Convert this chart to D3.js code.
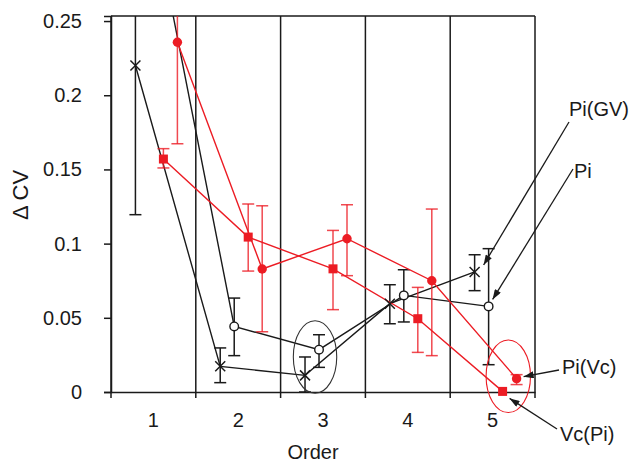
<!DOCTYPE html>
<html><head><meta charset="utf-8">
<script src="https://cdn.jsdelivr.net/npm/d3@7"></script>
<style>
html,body{margin:0;padding:0;background:#fff;}
svg{display:block;font-family:"Liberation Sans",Arial,Helvetica,sans-serif;}
</style></head>
<body><svg id="chart" width="629" height="463"></svg>
<script>
// ---- data ----
const categories = ["1","2","3","4","5"];
const yTicks = [0, 0.05, 0.1, 0.15, 0.2, 0.25];
const yTickLabels = ["0","0.05","0.1","0.15","0.2","0.25"];

const piGV     = [0.220, 0.0173, 0.0112, 0.0595, 0.0809];
const piGVLow  = [0.1195, 0.0063, 0.0, 0.0460, 0.0683];
const piGVHigh = [0.340, 0.0297, 0.0236, 0.0723, 0.0925];

const pi       = [0.335, 0.0442, 0.0285, 0.0651, 0.0577];
const piLow    = [0.290, 0.0245, 0.0166, 0.0472, 0.0184];
const piHigh   = [0.380, 0.0633, 0.0386, 0.0824, 0.0966];

const vcPi     = [0.157, 0.1044, 0.0830, 0.0494, 0.0004];
const vcPiLow  = [0.151, 0.0815, 0.0555, 0.0267, 0.0004];
const vcPiHigh = [0.164, 0.1267, 0.1089, 0.0705, 0.0004];

const piVc     = [0.2357, 0.0829, 0.1033, 0.0750, 0.0090];
const piVcLow  = [0.1673, 0.0406, 0.0784, 0.0245, 0.0050];
const piVcHigh = [0.300, 0.1255, 0.1262, 0.1233, 0.0117];

const seriesNames = ["Pi(GV)", "Pi", "Vc(Pi)", "Pi(Vc)"];

// ---- layout ----
const W = 629, H = 463;
const m = {left:111, right:94, top:16, bottom:71};
const RED = "#ec1c24", BLK = "#1a1a1a";

const svg = d3.select("#chart");
const x = d3.scaleBand().domain(categories).range([m.left, W - m.right]).padding(0);
const y = d3.scaleLinear().domain([0, 0.2534]).range([H - m.bottom, m.top]);
const bw = x.bandwidth();

const series = [
  {name:seriesNames[0], v:piGV, lo:piGVLow, hi:piGVHigh, dodge:-0.212, color:BLK, marker:"x"},
  {name:seriesNames[1], v:pi,   lo:piLow,   hi:piHigh,   dodge:-0.047, color:BLK, marker:"open"},
  {name:seriesNames[2], v:vcPi, lo:vcPiLow, hi:vcPiHigh, dodge:0.118,  color:RED, marker:"square"},
  {name:seriesNames[3], v:piVc, lo:piVcLow, hi:piVcHigh, dodge:0.283,  color:RED, marker:"dot"}
];
const px = (s, i) => x(categories[i]) + bw/2 + s.dodge*bw;

svg.append("defs").append("clipPath").attr("id","clip")
  .append("rect").attr("x", m.left).attr("y", m.top)
  .attr("width", W - m.right - m.left).attr("height", H - m.bottom - m.top);

svg.select("defs").append("marker").attr("id","arrow")
  .attr("viewBox","0 0 10 7").attr("refX",10).attr("refY",3.5)
  .attr("markerWidth",11).attr("markerHeight",7).attr("markerUnits","userSpaceOnUse")
  .attr("orient","auto")
  .append("path").attr("d","M0,0 L10,3.5 L0,7 Z").attr("fill", BLK);

// frame + vertical separators
const bounds = categories.map(c => x(c)).concat([x(categories[categories.length-1]) + bw]);
svg.append("g").selectAll("line").data(bounds).join("line")
  .attr("x1", d => d).attr("x2", d => d)
  .attr("y1", m.top).attr("y2", H - m.bottom + 6)
  .attr("stroke", BLK).attr("stroke-width", 1.5);
svg.append("line").attr("x1", m.left).attr("x2", W - m.right)
  .attr("y1", m.top).attr("y2", m.top).attr("stroke", BLK).attr("stroke-width", 1.5);

// y axis
const yAxis = svg.append("g").attr("transform", `translate(${m.left},0)`)
  .call(d3.axisLeft(y).tickValues(yTicks).tickFormat((d,i) => yTickLabels[i]).tickSize(7).tickPadding(22));
yAxis.select(".domain").attr("stroke", BLK).attr("stroke-width", 1.5);
yAxis.selectAll(".tick line").attr("stroke", BLK).attr("stroke-width", 1.5);
yAxis.selectAll("text").attr("font-size", 20).attr("fill", BLK)
  .attr("font-family", '"Liberation Sans",Arial,sans-serif');

// x axis
const xAxis = svg.append("g").attr("transform", `translate(0,${H - m.bottom})`)
  .call(d3.axisBottom(x).tickSize(0).tickPadding(21));
xAxis.select(".domain").attr("stroke", BLK).attr("stroke-width", 1.5);
xAxis.selectAll("text").attr("font-size", 20).attr("fill", BLK)
  .attr("font-family", '"Liberation Sans",Arial,sans-serif');

// axis titles
svg.append("text").attr("x", 313).attr("y", 459).attr("text-anchor","middle")
  .attr("font-size", 20).attr("fill", BLK).text("Order");
svg.append("text").attr("transform", "translate(28,195) rotate(-90)").attr("text-anchor","middle")
  .attr("font-size", 22).attr("fill", BLK).text("Δ CV");

// lines + error bars (clipped)
const plot = svg.append("g").attr("clip-path", "url(#clip)");
series.forEach(s => {
  const line = d3.line().x((d,i) => px(s,i)).y(d => y(d));
  plot.append("path").datum(s.v).attr("d", line).attr("fill","none")
    .attr("stroke", s.color).attr("stroke-width", 1.4);
  const eb = plot.append("g").attr("stroke", s.color).attr("stroke-width", 1.5)
    .attr("stroke-opacity", s.color === RED ? 0.8 : 1);
  s.v.forEach((v, i) => {
    if (s.lo[i] === s.hi[i]) return;
    const cx = px(s,i);
    eb.append("line").attr("x1",cx).attr("x2",cx).attr("y1",y(s.hi[i])).attr("y2",y(s.lo[i]));
    eb.append("line").attr("x1",cx-6).attr("x2",cx+6).attr("y1",y(s.hi[i])).attr("y2",y(s.hi[i]));
    eb.append("line").attr("x1",cx-6).attr("x2",cx+6).attr("y1",y(s.lo[i])).attr("y2",y(s.lo[i]));
  });
});

// markers (not clipped, but skip those above the plot)
const ymax = y.domain()[1];
series.forEach(s => {
  const g = svg.append("g");
  s.v.forEach((v, i) => {
    if (v > ymax) return;
    const cx = px(s,i), cy = y(v);
    if (s.marker === "x") {
      g.append("path").attr("d", `M${cx-5},${cy-5}L${cx+5},${cy+5}M${cx-5},${cy+5}L${cx+5},${cy-5}`)
        .attr("stroke", BLK).attr("stroke-width", 1.5);
    } else if (s.marker === "open") {
      g.append("circle").attr("cx",cx).attr("cy",cy).attr("r",4.3)
        .attr("fill","#fff").attr("stroke",BLK).attr("stroke-width",1.4);
    } else if (s.marker === "square") {
      g.append("rect").attr("x",cx-4.5).attr("y",cy-4.5).attr("width",9).attr("height",9).attr("fill",RED);
    } else {
      g.append("circle").attr("cx",cx).attr("cy",cy).attr("r",4.7).attr("fill",RED);
    }
  });
});

// ellipse annotations
const ellipses = [
  {cat:"3", dx:-0.094, v:0.0236, rx:21.7, ry:36.3, color:"#333"},
  {cat:"5", dx:0.185,  v:0.0106, rx:22.2, ry:36.3, color:RED}
];
svg.append("g").selectAll("ellipse").data(ellipses).join("ellipse")
  .attr("cx", d => x(d.cat) + bw/2 + d.dx*bw).attr("cy", d => y(d.v))
  .attr("rx", d => d.rx).attr("ry", d => d.ry)
  .attr("fill","none").attr("stroke", d => d.color).attr("stroke-width", 1.1);

// labels with arrows
const labels = [
  {text:"Pi(GV)", s:0, tx:569, ty:116, lx:569, ly:122, ox:9, oy:-7},
  {text:"Pi",     s:1, tx:574, ty:178, lx:573, ly:169, ox:4, oy:-7},
  {text:"Pi(Vc)", s:3, tx:562, ty:374, lx:559, ly:370, ox:7, oy:-2},
  {text:"Vc(Pi)", s:2, tx:560, ty:441, lx:557, ly:429, ox:7, oy:7}
];
labels.forEach(l => {
  const s = series[l.s];
  const tx = px(s,4) + l.ox, ty = y(s.v[4]) + l.oy;
  svg.append("line").attr("x1", l.lx).attr("y1", l.ly).attr("x2", tx).attr("y2", ty)
    .attr("stroke", BLK).attr("stroke-width", 1.3).attr("marker-end", "url(#arrow)");
  svg.append("text").attr("x", l.tx).attr("y", l.ty).attr("font-size", 20).attr("fill", BLK).text(l.text);
});
</script></body></html>
